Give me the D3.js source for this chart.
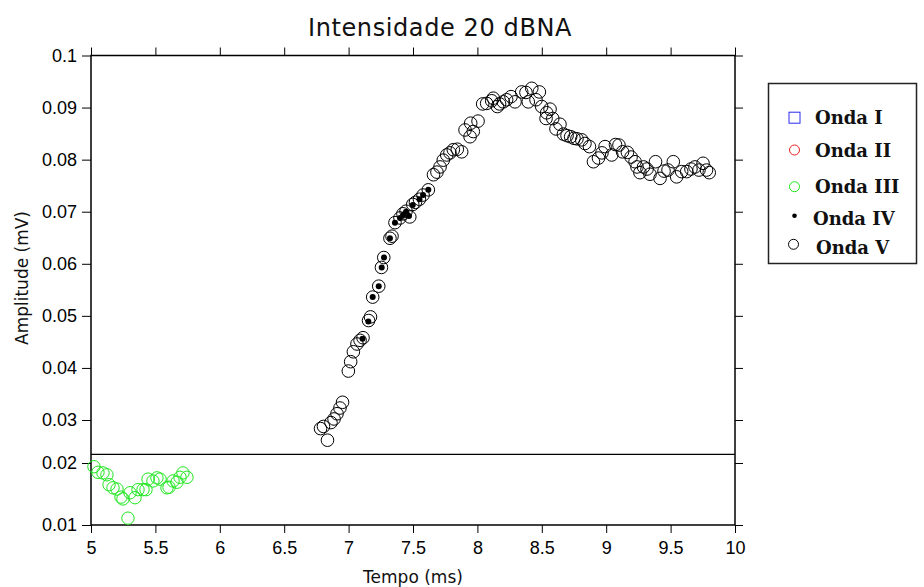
<!DOCTYPE html>
<html>
<head>
<meta charset="utf-8">
<script src="https://cdn.jsdelivr.net/npm/d3@7/dist/d3.min.js"></script>
<style>
  html, body { margin: 0; padding: 0; background: #fff; }
  svg { display: block; }
</style>
</head>
<body>
<svg id="chart" width="924" height="587"></svg>
<script>
// ---------------- DATA ----------------
const titleText = "Intensidade 20 dBNA";
const xLabel = "Tempo (ms)";
const yLabel = "Amplitude (mV)";

const xTicks = [5, 5.5, 6, 6.5, 7, 7.5, 8, 8.5, 9, 9.5, 10];
const xTickLabels = ["5", "5.5", "6", "6.5", "7", "7.5", "8", "8.5", "9", "9.5", "10"];
const yTicks = [0.01, 0.02, 0.03, 0.04, 0.05, 0.06, 0.07, 0.08, 0.09, 0.1];
const yTickLabels = ["0.01", "0.02", "0.03", "0.04", "0.05", "0.06", "0.07", "0.08", "0.09", "0.1"];

const legendNames = ["Onda I", "Onda II", "Onda III", "Onda IV", "Onda V"];

const separatorValue = 0.0220;

// Onda III (green circles): [tempo, amplitude]
const ondaIII = [
  [5.023, 0.0194], [5.054, 0.0185], [5.093, 0.0184], [5.124, 0.0181], [5.140, 0.0165],
  [5.171, 0.0160], [5.202, 0.0158], [5.233, 0.0145], [5.248, 0.0142], [5.287, 0.0111],
  [5.303, 0.0152], [5.342, 0.0144], [5.365, 0.0157], [5.404, 0.0157], [5.427, 0.0157],
  [5.443, 0.0174], [5.481, 0.0171], [5.512, 0.0176], [5.536, 0.0174], [5.590, 0.0160],
  [5.606, 0.0161], [5.637, 0.0171], [5.668, 0.0169], [5.691, 0.0177], [5.714, 0.0184],
  [5.745, 0.0177]
];

// Onda IV (small black dots)
const ondaIV = [
  [7.108, 0.0456], [7.153, 0.0489], [7.187, 0.0536], [7.234, 0.0557], [7.257, 0.0593],
  [7.275, 0.0612], [7.321, 0.0649], [7.360, 0.0679], [7.399, 0.0688], [7.425, 0.0694],
  [7.446, 0.0700], [7.469, 0.0692], [7.498, 0.0713], [7.550, 0.0724], [7.578, 0.0732],
  [7.619, 0.0742]
];

// Onda V (open black circles)
const ondaV = [
  [6.782, 0.0280], [6.805, 0.0285], [6.836, 0.0253], [6.863, 0.0294], [6.887, 0.0302],
  [6.910, 0.0312], [6.933, 0.0323], [6.953, 0.0334], [6.998, 0.0394], [7.016, 0.0412],
  [7.037, 0.0431], [7.065, 0.0446], [7.089, 0.0453], [7.112, 0.0458], [7.155, 0.0491],
  [7.170, 0.0498], [7.187, 0.0536], [7.234, 0.0557], [7.255, 0.0593], [7.273, 0.0612],
  [7.321, 0.0649], [7.337, 0.0653], [7.360, 0.0679], [7.399, 0.0688], [7.422, 0.0696],
  [7.446, 0.0701], [7.475, 0.0690], [7.498, 0.0714], [7.519, 0.0718], [7.550, 0.0724],
  [7.578, 0.0732], [7.619, 0.0742], [7.659, 0.0771], [7.686, 0.0776], [7.710, 0.0786],
  [7.735, 0.0799], [7.762, 0.0809], [7.787, 0.0813], [7.813, 0.0819], [7.844, 0.0820],
  [7.878, 0.0815], [7.904, 0.0857], [7.943, 0.0844], [7.968, 0.0854], [7.948, 0.0870],
  [8.005, 0.0874], [8.041, 0.0907], [8.072, 0.0908], [8.111, 0.0913], [8.123, 0.0918],
  [8.155, 0.0902], [8.172, 0.0907], [8.201, 0.0911], [8.227, 0.0915], [8.261, 0.0921],
  [8.292, 0.0911], [8.344, 0.0930], [8.377, 0.0929], [8.395, 0.0911], [8.422, 0.0937],
  [8.455, 0.0915], [8.481, 0.0930], [8.499, 0.0902], [8.538, 0.0890], [8.564, 0.0897],
  [8.533, 0.0879], [8.585, 0.0879], [8.610, 0.0859], [8.641, 0.0868], [8.668, 0.0849],
  [8.696, 0.0846], [8.724, 0.0844], [8.750, 0.0841], [8.773, 0.0840], [8.810, 0.0838],
  [8.835, 0.0831], [8.870, 0.0825], [8.901, 0.0796], [8.940, 0.0803], [8.967, 0.0813],
  [8.991, 0.0825], [9.043, 0.0809], [9.072, 0.0829], [9.099, 0.0828], [9.127, 0.0815],
  [9.165, 0.0814], [9.193, 0.0805], [9.224, 0.0796], [9.239, 0.0786], [9.262, 0.0775],
  [9.290, 0.0786], [9.317, 0.0782], [9.340, 0.0772], [9.383, 0.0796], [9.418, 0.0764],
  [9.449, 0.0778], [9.480, 0.0780], [9.521, 0.0796], [9.547, 0.0767], [9.586, 0.0777],
  [9.625, 0.0777], [9.658, 0.0782], [9.689, 0.0786], [9.720, 0.0780], [9.752, 0.0793],
  [9.779, 0.0780], [9.800, 0.0775]
];

// ---------------- LAYOUT ----------------
const plot = { left: 91, right: 735, top: 55.5, bottom: 525 };
const svg = d3.select("#chart");

const x = d3.scaleLinear().domain([5, 10]).range([plot.left, plot.right]);
// axis as drawn in the reference: the lowest band is stretched
const y = d3.scaleLinear()
  .domain([0.01, 0.02, 0.03, 0.1])
  .range([plot.bottom, 463, 420, plot.top]);

const tickFont = "'Liberation Sans', Arial, sans-serif";

// frame
svg.append("rect")
  .attr("x", plot.left).attr("y", plot.top)
  .attr("width", plot.right - plot.left).attr("height", plot.bottom - plot.top)
  .attr("fill", "none").attr("stroke", "#000").attr("stroke-width", 1.5);

function styleAxis(g) {
  g.select(".domain").remove();
  g.selectAll(".tick line").attr("stroke", "#000").attr("stroke-width", 1);
  g.selectAll(".tick text").attr("fill", "#000")
    .style("font-family", tickFont).style("font-size", "18px");
}

svg.append("g").attr("transform", `translate(0,${plot.bottom})`)
  .call(d3.axisBottom(x).tickValues(xTicks).tickFormat((d, i) => xTickLabels[i]).tickSize(8).tickPadding(8))
  .call(styleAxis);
svg.append("g").attr("transform", `translate(0,${plot.top})`)
  .call(d3.axisTop(x).tickValues(xTicks).tickFormat("").tickSize(8))
  .call(styleAxis);
svg.append("g").attr("transform", `translate(${plot.left},0)`)
  .call(d3.axisLeft(y).tickValues(yTicks).tickFormat((d, i) => yTickLabels[i]).tickSize(9).tickPadding(5))
  .call(styleAxis);
svg.append("g").attr("transform", `translate(${plot.right},0)`)
  .call(d3.axisRight(y).tickValues(yTicks).tickFormat("").tickSize(8))
  .call(styleAxis);

// separator line
svg.append("line")
  .attr("x1", plot.left).attr("x2", plot.right)
  .attr("y1", y(separatorValue)).attr("y2", y(separatorValue))
  .attr("stroke", "#000").attr("stroke-width", 1.2);

// marks
const green = "#1ee61e";
svg.append("g").selectAll("circle").data(ondaIII).join("circle")
  .attr("cx", d => x(d[0])).attr("cy", d => y(d[1])).attr("r", 6.2)
  .attr("fill", "none").attr("stroke", green).attr("stroke-width", 1);

svg.append("g").selectAll("circle").data(ondaV).join("circle")
  .attr("cx", d => x(d[0])).attr("cy", d => y(d[1])).attr("r", 6.3)
  .attr("fill", "none").attr("stroke", "#000").attr("stroke-width", 1);

svg.append("g").selectAll("circle").data(ondaIV).join("circle")
  .attr("cx", d => x(d[0])).attr("cy", d => y(d[1])).attr("r", 3)
  .attr("fill", "#000");

// titles
svg.append("text").text(titleText)
  .attr("x", 440).attr("y", 36).attr("text-anchor", "middle")
  .style("font-family", "'DejaVu Sans', sans-serif").style("font-size", "24px")
  .style("letter-spacing", "0.6px")
  .style("font-weight", "normal").attr("fill", "#111");

svg.append("text").text(xLabel)
  .attr("x", 413).attr("y", 583).attr("text-anchor", "middle")
  .style("font-family", "'DejaVu Sans', sans-serif").style("font-size", "17px").attr("fill", "#111");

svg.append("text").text(yLabel)
  .attr("transform", "translate(28,278) rotate(-90)").attr("text-anchor", "middle")
  .style("font-family", "'DejaVu Sans', sans-serif").style("font-size", "17px").attr("fill", "#111");

// legend
const lg = svg.append("g");
lg.append("rect").attr("x", 768.5).attr("y", 83.5).attr("width", 148).attr("height", 180)
  .attr("fill", "#fff").attr("stroke", "#222").attr("stroke-width", 1.5);

const legendMarkY = [117.7, 150, 186.7, 215.7, 244.3];
const legendTextY = [123.5, 156.5, 193, 225, 254];
const legendTextX = [815, 815, 815, 813, 816];

legendNames.forEach((name, i) => {
  const cx = 794.5, cy = legendMarkY[i];
  if (i === 0) {
    lg.append("rect").attr("x", cx - 5.5).attr("y", cy - 5.5).attr("width", 11).attr("height", 11)
      .attr("fill", "none").attr("stroke", "#2a2aee").attr("stroke-width", 1);
  } else if (i === 1) {
    lg.append("circle").attr("cx", cx).attr("cy", cy).attr("r", 5)
      .attr("fill", "none").attr("stroke", "#ee2020").attr("stroke-width", 1);
  } else if (i === 2) {
    lg.append("circle").attr("cx", cx).attr("cy", cy).attr("r", 5)
      .attr("fill", "none").attr("stroke", green).attr("stroke-width", 1);
  } else if (i === 3) {
    lg.append("circle").attr("cx", cx).attr("cy", cy).attr("r", 2.3).attr("fill", "#000");
  } else {
    lg.append("circle").attr("cx", cx - 1).attr("cy", cy).attr("r", 5)
      .attr("fill", "none").attr("stroke", "#000").attr("stroke-width", 1);
  }
  lg.append("text").text(name)
    .attr("x", legendTextX[i]).attr("y", legendTextY[i])
    .style("font-family", "'DejaVu Serif', serif").style("font-weight", "bold")
    .style("font-size", "18px").attr("fill", "#111");
});
</script>
</body>
</html>
